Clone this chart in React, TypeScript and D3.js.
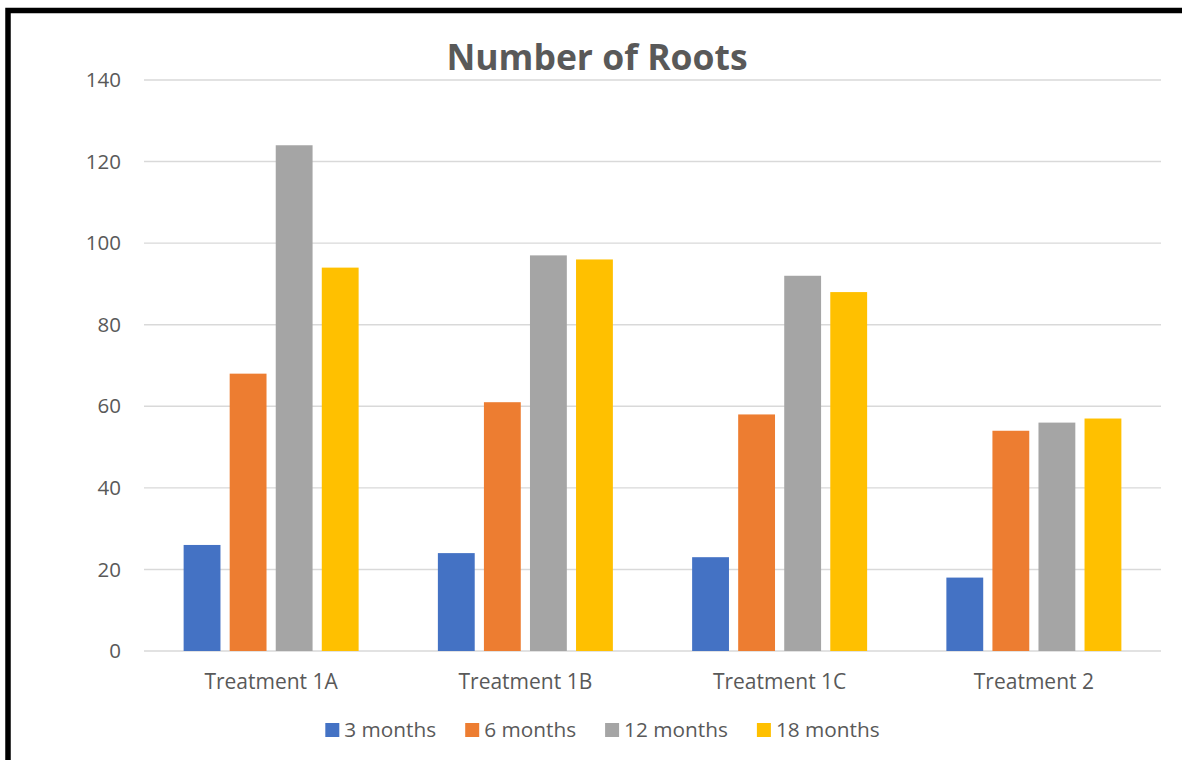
import React, { useEffect, useRef } from "react";
import * as d3 from "d3";

const categories = ["Treatment 1A", "Treatment 1B", "Treatment 1C", "Treatment 2"];
const seriesNames = ["3 months", "6 months", "12 months", "18 months"];
const seriesColors = ["#4472C4", "#ED7D31", "#A5A5A5", "#FFC000"];
const months3 = [26, 24, 23, 18];
const months6 = [68, 61, 58, 54];
const months12 = [124, 97, 92, 56];
const months18 = [94, 96, 88, 57];
const yTicks = [0, 20, 40, 60, 80, 100, 120, 140];
const title = "Number of Roots";

const W = 1182;
const H = 760;
const FONT = "'Open Sans', 'Segoe UI', sans-serif";

export default function App() {
  const ref = useRef<SVGSVGElement | null>(null);

  useEffect(() => {
    const svg = d3.select(ref.current);
    svg.selectAll("*").remove();
    const series = [months3, months6, months12, months18];

    svg.append("rect").attr("x", 0).attr("y", 0).attr("width", W).attr("height", H).attr("fill", "#fff");

    const plotL = 144, plotR = 1161, plotT = 80, plotB = 651;
    const x = d3.scaleBand<string>().domain(categories).range([plotL, plotR]).padding(0);
    const y = d3.scaleLinear().domain([0, 140]).range([plotB, plotT]);
    const groupW = 175;
    const xs = d3.scaleBand<string>().domain(seriesNames).range([-groupW / 2, groupW / 2]).paddingInner(0.2).paddingOuter(0);

    // gridlines
    svg.append("g").selectAll("line").data(yTicks).join("line")
      .attr("x1", plotL).attr("x2", plotR)
      .attr("y1", (d) => y(d)).attr("y2", (d) => y(d))
      .attr("stroke", "#d9d9d9").attr("stroke-width", 1.4);

    // y tick labels
    svg.append("g").selectAll("text").data(yTicks).join("text")
      .attr("x", 121).attr("y", (d) => y(d)).attr("dy", "0.35em")
      .attr("text-anchor", "end").attr("fill", "#595959")
      .attr("font-family", FONT).attr("font-size", 20.5)
      .text((d) => String(d));

    // bars
    seriesNames.forEach((name, si) => {
      svg.append("g").selectAll("rect").data(series[si]).join("rect")
        .attr("x", (d, i) => (x(categories[i]) as number) + x.bandwidth() / 2 + (xs(name) as number))
        .attr("width", xs.bandwidth())
        .attr("y", (d) => y(d))
        .attr("height", (d) => y(0) - y(d))
        .attr("fill", seriesColors[si]);
    });

    // category labels
    svg.append("g").selectAll("text").data(categories).join("text")
      .attr("x", (d) => (x(d) as number) + x.bandwidth() / 2)
      .attr("y", 682).attr("dy", "0.35em")
      .attr("text-anchor", "middle").attr("fill", "#595959")
      .attr("font-family", FONT).attr("font-size", 21)
      .text((d) => d);

    // title
    svg.append("text").attr("x", 597).attr("y", 58).attr("dy", "0.35em")
      .attr("text-anchor", "middle").attr("fill", "#595959")
      .attr("font-family", FONT).attr("font-size", 35.5).attr("font-weight", "bold")
      .text(title);

    // legend
    const lg = svg.append("g");
    const sw = 14, gapText = 5, gapItem = 29, ly = 730;
    const items = seriesNames.map((n, i) => {
      const g = lg.append("g");
      g.append("rect").attr("width", sw).attr("height", sw).attr("y", ly - sw / 2).attr("fill", seriesColors[i]);
      const t = g.append("text").attr("x", sw + gapText).attr("y", ly).attr("dy", "0.35em")
        .attr("fill", "#595959").attr("font-family", FONT).attr("font-size", 20.8).text(n);
      const w = sw + gapText + (t.node() as SVGTextElement).getComputedTextLength();
      return { g, w };
    });
    const total = d3.sum(items, (d) => d.w) + gapItem * (items.length - 1);
    let cx = 602.5 - total / 2;
    items.forEach((it) => {
      it.g.attr("transform", `translate(${cx},0)`);
      cx += it.w + gapItem;
    });

    // border
    svg.append("rect").attr("x", 8).attr("y", 10.5).attr("width", W + 20).attr("height", H + 20)
      .attr("fill", "none").attr("stroke", "#000").attr("stroke-width", 5.5);
  }, []);

  return (
    <svg ref={ref} width={W} height={H} style={{ position: "absolute", left: 0, top: 0, display: "block" }} />
  );
}
